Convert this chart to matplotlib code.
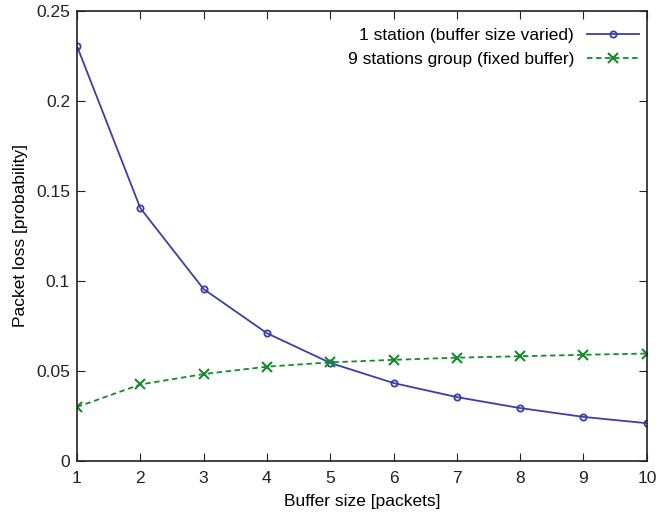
import matplotlib
matplotlib.use('Agg')
import matplotlib.pyplot as plt

buffer_size = [1, 2, 3, 4, 5, 6, 7, 8, 9, 10]
loss_single = [0.2305, 0.1405, 0.0955, 0.0710, 0.0545, 0.0433, 0.0355, 0.0294, 0.0245, 0.0210]
loss_group = [0.0300, 0.0425, 0.0483, 0.0524, 0.0548, 0.0562, 0.0574, 0.0582, 0.0590, 0.0597]
labels = ['1 station (buffer size varied)', '9 stations group (fixed buffer)']

plt.rcParams['font.family'] = ['Liberation Sans', 'DejaVu Sans']
plt.rcParams['font.size'] = 12

fig = plt.figure(figsize=(6.58, 5.12), dpi=100)
ax = fig.add_axes([0.117, 0.0996, 0.866, 0.879])

ax.plot(buffer_size, loss_single, '-', color='#3b3fa6', lw=1.3, marker='o',
        ms=4.5, mfc='none', mew=1.3, label=labels[0])
ax.plot(buffer_size, loss_group, '--', color='#168a2e', lw=1.3, marker='x',
        ms=7, mew=1.5, label=labels[1], dashes=(3, 2))

ax.set_xlim(1, 10)
ax.set_ylim(0, 0.25)
ax.set_xticks(buffer_size)
ax.set_yticks([0, 0.05, 0.1, 0.15, 0.2, 0.25])
ax.set_yticklabels(['0', '0.05', '0.1', '0.15', '0.2', '0.25'])
ax.tick_params(direction='in', top=True, right=True, length=6, colors='#222222',
               labelsize=12.5)
ax.tick_params(axis='x', pad=7)
ax.tick_params(axis='y', pad=5)
for s in ax.spines.values():
    s.set_linewidth(1.2)
    s.set_color('#222222')

ax.set_xlabel('Buffer size [packets]', fontsize=12.5, labelpad=6)
ax.set_ylabel('Packet loss [probability]', fontsize=12.5, labelpad=6)

ax.legend(loc='upper right', bbox_to_anchor=(1, 0.98), frameon=False,
          markerfirst=False, fontsize=12.5, handlelength=3.0,
          handletextpad=0.75, borderpad=0.1, borderaxespad=0.35,
          labelspacing=0.5)

fig.savefig('out.png', dpi=100)
